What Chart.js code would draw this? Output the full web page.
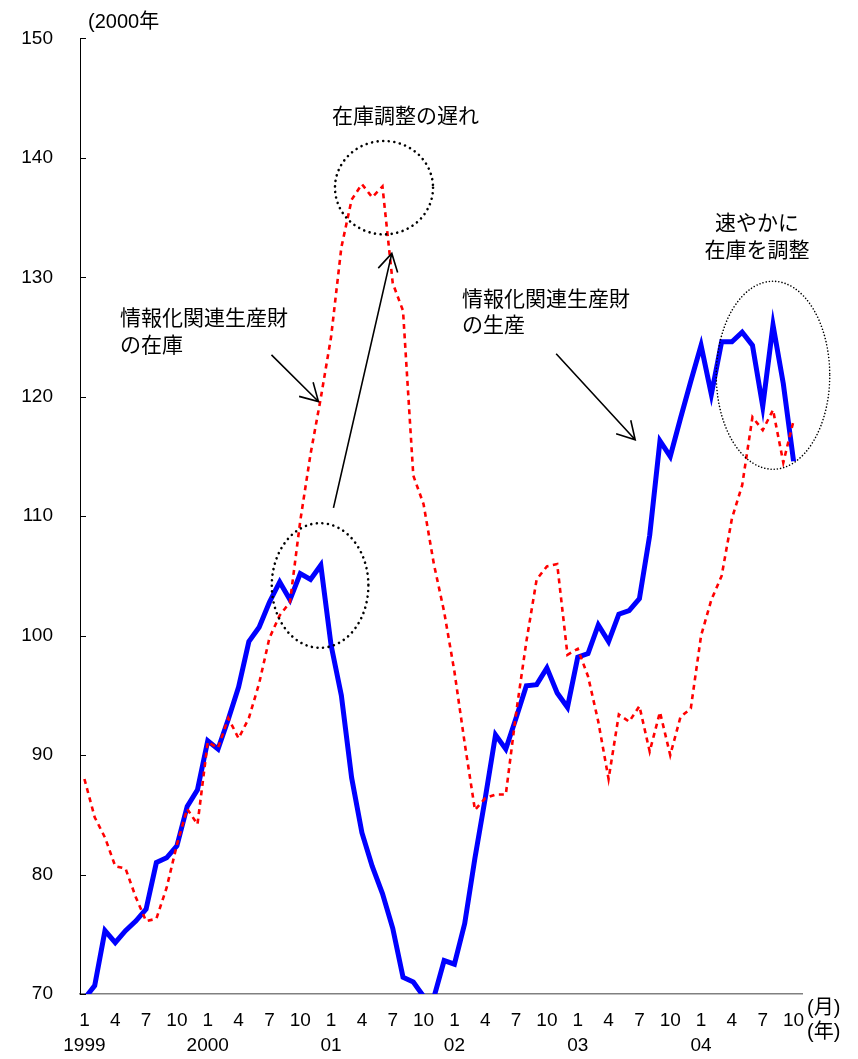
<!DOCTYPE html>
<html>
<head>
<meta charset="utf-8">
<script src="https://cdn.jsdelivr.net/npm/chart.js@4.4.1/dist/chart.umd.min.js"></script>
<style>
  body { margin: 0; background: #fff; }
  canvas { display: block; }
</style>
</head>
<body>
<canvas id="chart" width="858" height="1059"></canvas>
<script>
// monthly, 1999-01 .. 2004-10 (2000 = 100)
const production = [
  69.6, 70.7, 75.3, 74.3, 75.3, 76.1, 77.1, 81.0, 81.4, 82.4, 85.7, 87.1,
  91.2, 90.5, 93.0, 95.7, 99.5, 100.7, 102.8, 104.5, 103.0, 105.2, 104.7, 105.9,
  99.2, 95.0, 88.1, 83.5, 80.7, 78.4, 75.5, 71.4, 71.0, 69.8, 69.7, 72.8,
  72.5, 75.9, 81.4, 86.4, 91.7, 90.5, 93.1, 95.8, 95.9, 97.3, 95.2, 94.0,
  98.2, 98.5, 100.9, 99.5, 101.8, 102.1, 103.1, 108.4, 116.3, 115.0, 118.2, 121.3,
  124.3, 120.2, 124.6, 124.6, 125.4, 124.3, 119.2, 126.0, 121.1, 114.6
];
const inventory = [
  88.0, 84.8, 83.1, 80.7, 80.5, 78.1, 76.1, 76.3, 78.9, 82.5, 85.5, 84.2,
  91.1, 90.6, 93.1, 91.4, 93.1, 96.0, 99.8, 101.7, 102.8, 109.6, 115.2, 119.9,
  125.0, 132.5, 136.5, 137.8, 136.7, 137.6, 129.5, 127.2, 113.4, 111.0, 106.0, 102.0,
  97.0, 91.0, 85.4, 86.4, 86.7, 86.7, 93.5, 99.5, 104.7, 105.8, 106.0, 98.4,
  98.9, 96.6, 92.8, 88.0, 93.4, 92.8, 94.1, 90.3, 93.6, 90.0, 93.2, 93.9,
  100.0, 103.0, 105.0, 109.8, 112.6, 118.3, 117.2, 118.9, 114.5, 118.0
];
const monthLabels = ['1', '4', '7', '10'];
const yearLabels = ['1999', '2000', '01', '02', '03', '04'];
const yTicks = [70, 80, 90, 100, 110, 120, 130, 140, 150];

const numFont = { family: '"Liberation Sans", Arial, sans-serif', size: 19 };
const jpFont = '21px "Noto Sans CJK JP", sans-serif';

const xTicks = [];
for (let i = 0; i < production.length; i += 3) xTicks.push(i);

function pts(arr) { return arr.map((v, i) => ({ x: i, y: v })); }

// callouts, in data units (month index, index value)
const notes = {
  ellipses: [
    { i: 29.15, v: 137.5, ri: 4.77, rv: 3.91, lw: 2.6, gap: 5.6 },
    { i: 22.93, v: 104.2, ri: 4.70, rv: 5.22, lw: 2.6, gap: 5.6 },
    { i: 67.0, v: 121.8, ri: 5.52, rv: 7.87, lw: 1.6, gap: 3.2 }
  ],
  arrows: [
    [18.2, 123.5, 22.77, 119.6],
    [24.23, 110.7, 29.91, 132.0],
    [45.9, 123.6, 53.59, 116.4]
  ],
  texts: [
    { t: '在庫調整の遅れ', i: 31.25, v: 143.6, align: 'center' },
    { t: '情報化関連生産財', i: 3.47, v: 126.7, align: 'left' },
    { t: 'の在庫', i: 3.47, v: 124.45, align: 'left' },
    { t: '情報化関連生産財', i: 36.75, v: 128.3, align: 'left' },
    { t: 'の生産', i: 36.75, v: 126.05, align: 'left' },
    { t: '速やかに', i: 65.44, v: 134.6, align: 'center' },
    { t: '在庫を調整', i: 65.44, v: 132.35, align: 'center' }
  ]
};

const callouts = {
  id: 'callouts',
  afterDraw(chart) {
    const { ctx, scales: { x, y } } = chart;
    const px = i => x.getPixelForValue(i);
    const py = v => y.getPixelForValue(v);
    ctx.save();

    // inward ticks on the y axis
    ctx.strokeStyle = '#000';
    ctx.lineWidth = 1;
    yTicks.forEach(v => {
      const yy = Math.round(py(v)) + 0.5;
      ctx.beginPath();
      ctx.moveTo(x.left, yy);
      ctx.lineTo(x.left + 6, yy);
      ctx.stroke();
    });

    // dotted ellipses
    ctx.lineCap = 'round';
    notes.ellipses.forEach(e => {
      ctx.beginPath();
      ctx.ellipse(px(e.i), py(e.v), Math.abs(px(e.i + e.ri) - px(e.i)),
        Math.abs(py(e.v + e.rv) - py(e.v)), 0, 0, Math.PI * 2);
      ctx.setLineDash([0.01, e.gap]);
      ctx.lineWidth = e.lw;
      ctx.stroke();
    });
    ctx.setLineDash([]);

    // arrows
    ctx.lineCap = 'butt';
    ctx.lineWidth = 1.6;
    notes.arrows.forEach(([i0, v0, i1, v1]) => {
      const x0 = px(i0), y0 = py(v0), x1 = px(i1), y1 = py(v1);
      const a = Math.atan2(y1 - y0, x1 - x0);
      ctx.beginPath();
      ctx.moveTo(x0, y0);
      ctx.lineTo(x1, y1);
      ctx.moveTo(x1 - 20 * Math.cos(a - 0.52), y1 - 20 * Math.sin(a - 0.52));
      ctx.lineTo(x1, y1);
      ctx.lineTo(x1 - 20 * Math.cos(a + 0.52), y1 - 20 * Math.sin(a + 0.52));
      ctx.stroke();
    });

    // texts
    ctx.fillStyle = '#000';
    ctx.font = jpFont;
    ctx.textBaseline = 'middle';
    notes.texts.forEach(n => {
      ctx.textAlign = n.align;
      ctx.fillText(n.t, px(n.i), py(n.v));
    });

    // unit labels
    ctx.font = '20px "Liberation Sans", "Noto Sans CJK JP", sans-serif';
    ctx.textAlign = 'left';
    ctx.fillText('(2000年', x.left + 8, y.top - 16);
    ctx.fillText('(月)', x.right + 5, y.bottom + 14);
    ctx.fillText('(年)', x.right + 5, y.bottom + 38);
    ctx.restore();
  }
};

new Chart(document.getElementById('chart'), {
  type: 'line',
  data: {
    datasets: [
      {
        label: '情報化関連生産財の在庫',
        data: pts(inventory),
        borderColor: '#ff0000',
        borderWidth: 2.6,
        borderDash: [5, 4.5],
        pointRadius: 0,
        tension: 0,
        fill: false
      },
      {
        label: '情報化関連生産財の生産',
        data: pts(production),
        borderColor: '#0000ff',
        borderWidth: 5,
        borderJoinStyle: 'miter',
        pointRadius: 0,
        tension: 0,
        fill: false,
        clip: 0
      }
    ]
  },
  options: {
    responsive: false,
    animation: false,
    layout: { padding: { top: 33, right: 56, left: 0, bottom: 0 } },
    plugins: { legend: { display: false }, tooltip: { enabled: false } },
    scales: {
      x: {
        type: 'linear',
        min: -0.43,
        max: 69.82,
        afterFit: s => { s.height = 65; },
        afterBuildTicks: s => { s.ticks = xTicks.map(v => ({ value: v })); },
        grid: { display: false, drawTicks: false },
        border: { display: true, color: '#808080', width: 1.5 },
        ticks: {
          autoSkip: false,
          maxRotation: 0,
          padding: 14,
          color: '#000',
          font: { ...numFont, lineHeight: '25px' },
          callback: v => {
            const m = monthLabels[(v / 3) % 4];
            return v % 12 === 0 ? [m, yearLabels[v / 12]] : m;
          }
        }
      },
      y: {
        min: 70,
        max: 150,
        afterFit: s => { s.width = 80; },
        afterBuildTicks: s => { s.ticks = yTicks.map(v => ({ value: v })); },
        grid: { display: false, drawTicks: false },
        border: { display: true, color: '#000', width: 1 },
        ticks: { padding: 27, color: '#000', font: numFont }
      }
    }
  },
  plugins: [callouts]
});
</script>
</body>
</html>
